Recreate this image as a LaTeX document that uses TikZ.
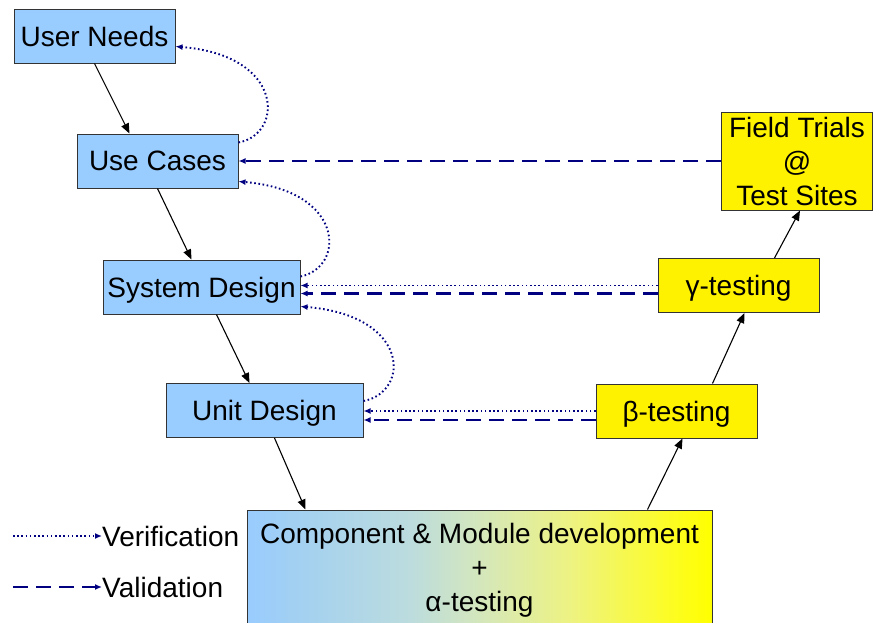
\documentclass[tikz,border=0pt]{standalone}
\usepackage{fontspec}
\setmainfont{Liberation Sans}
\usetikzlibrary{arrows.meta,calc}
\definecolor{boxblue}{HTML}{99CCFF}
\definecolor{navy}{HTML}{000080}
\definecolor{edge}{HTML}{333333}
\definecolor{shadeA}{RGB}{162,208,242}
\definecolor{shadeB}{RGB}{188,220,222}
\definecolor{shadeC}{RGB}{212,231,188}
\definecolor{shadeD}{RGB}{238,243,128}
\definecolor{shadeE}{RGB}{252,252,40}
% blue-to-yellow blend for the development stage (25bp..75bp spans the box)
\pgfdeclarehorizontalshading{bluetoyellow}{100bp}{%
  color(0bp)=(boxblue); color(25bp)=(boxblue); color(30bp)=(shadeA);
  color(42.5bp)=(shadeB); color(50bp)=(shadeC); color(60bp)=(shadeD);
  color(70bp)=(shadeE); color(75bp)=(yellow); color(100bp)=(yellow)}
\tikzset{
  stage/.style={draw=edge, line width=1pt, fill=boxblue, minimum width=161pt,
    minimum height=54pt, inner sep=0pt, align=center,
    font=\fontsize{28}{34}\selectfont},
  oneline/.style={text depth=0pt},
  widestage/.style={stage, oneline, minimum width=197pt},
  teststage/.style={stage, fill=yellow},
  flow/.style={-{Triangle[length=10pt,width=8pt]}, line width=1.1pt, black},
  verif/.style={-{Latex[length=7pt,width=6pt]}, navy, line width=1.9pt,
    dash pattern=on 1.6pt off 2.6pt},
  valid/.style={-{Latex[length=7pt,width=6pt]}, navy, line width=2.2pt,
    dash pattern=on 15pt off 8pt},
  legendtext/.style={inner sep=0pt, anchor=west, font=\fontsize{28}{34}\selectfont}
}
\begin{document}
\begin{tikzpicture}[x=1pt,y=-1pt]
\useasboundingbox (0,0) rectangle (873,622);

% left branch: specification
\node[stage, oneline] (un) at (94.5,36) {User Needs};
\node[stage, oneline] (uc) at (157.5,161) {Use Cases};
\node[widestage] (sd) at (201.5,287) {System Design};
\node[widestage] (ud) at (264.5,410.5) {Unit Design};

% bottom: development, shaded from blue to yellow
\node[stage, minimum width=465pt, minimum height=120pt,
      shading=bluetoyellow] (comp) at (479.5,570)
      {Component \& Module development\\+\\α-testing};

% right branch: testing
\node[teststage, oneline] (beta) at (676.5,411) {β-testing};
\node[teststage, oneline] (gamma) at (738.5,285.5) {γ-testing};
\node[teststage, minimum width=151pt, minimum height=98pt] (ft) at (797,161)
      {Field Trials\\@\\Test Sites};

% V-shaped flow
\draw[flow] (un.south) -- ([xshift=53pt]uc.north west);
\draw[flow] (uc.south) -- ([xshift=89pt]sd.north west);
\draw[flow] ([xshift=114pt]sd.south west) -- ([xshift=84pt]ud.north west);
\draw[flow] ([xshift=109pt]ud.south west) -- ([xshift=59pt]comp.north west);
\draw[flow] ([xshift=401pt]comp.north west) -- ([xshift=87pt]beta.south west);
\draw[flow] ([xshift=117pt]beta.north west) -- ([xshift=87pt]gamma.south west);
\draw[flow] ([xshift=117pt]gamma.north west) -- ([xshift=79pt]ft.south west);

% verification loops between neighbouring design levels
\draw[verif] ($(uc.north east)+(0,9)$) .. controls +(45,-8) and +(110,9) .. ($(un.south east)+(0,-17)$);
\draw[verif] ($(sd.north east)+(0,17)$) .. controls +(45,-9) and +(107,9) .. ($(uc.south east)+(0,-7)$);
\draw[verif] ($(ud.north east)+(0,18)$) .. controls +(47,-9) and +(110,9) .. ($(sd.south east)+(0,-8)$);

% checks from the test stages back to the design levels
\draw[verif] (gamma.west) -- (gamma.west -| sd.east);
\draw[valid] ($(gamma.west)+(0,8)$) -- ($(gamma.west -| sd.east)+(0,8)$);
\draw[verif] (beta.west) -- (beta.west -| ud.east);
\draw[valid] ($(beta.west)+(0,9)$) -- ($(beta.west -| ud.east)+(0,9)$);
\draw[valid] (ft.west) -- (ft.west -| uc.east);

% legend
\coordinate (vs) at (13,536);
\node[legendtext] (vt) at (102,536) {Verification};
\draw[verif] (vs) -- (vt.west);
\coordinate (ls) at (13,587);
\node[legendtext] (lt) at (102,587) {Validation};
\draw[valid] (ls) -- (lt.west);
\end{tikzpicture}
\end{document}
